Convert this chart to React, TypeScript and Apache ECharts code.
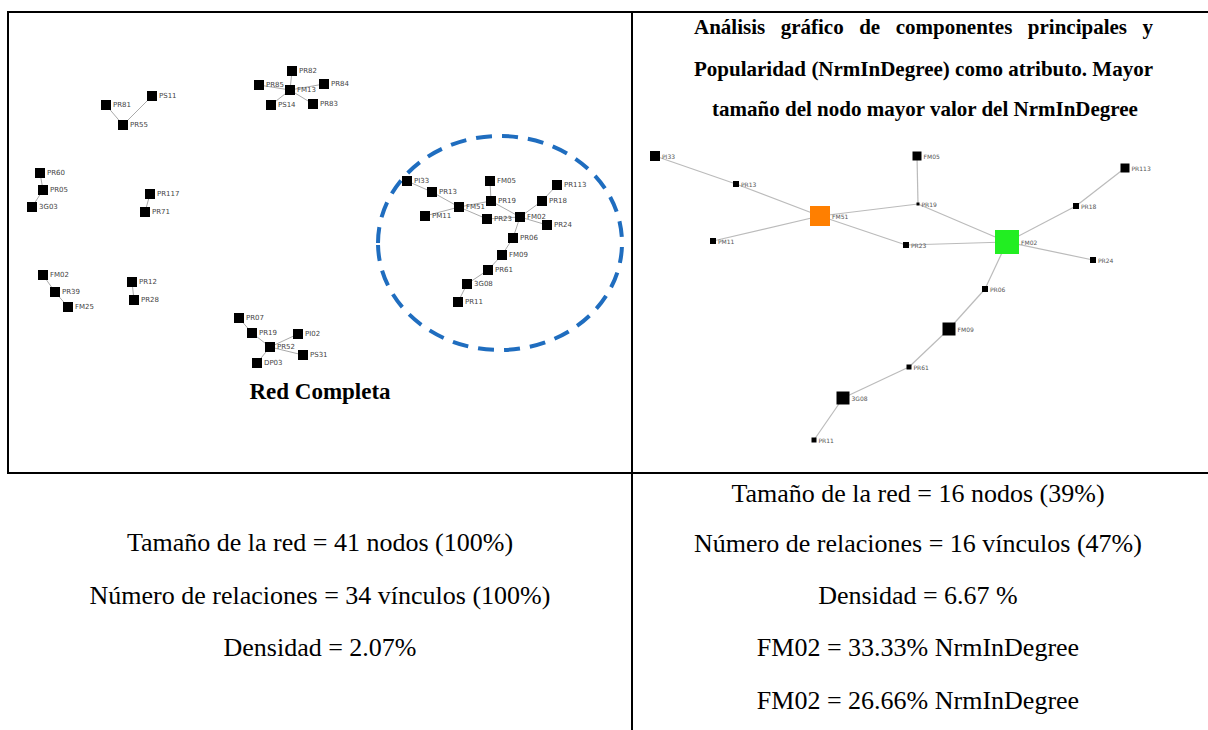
import React, { useEffect, useRef } from "react";
import * as echarts from "echarts";

// ---- Left network (complete network) ----
const leftNodes: [string, number, number][] = [
  ["PR81", 106, 105], ["PS11", 152, 96], ["PR55", 123, 125],
  ["PR82", 292, 71], ["PR85", 259, 85], ["FM13", 290, 90], ["PR84", 324, 84], ["PS14", 271, 105], ["PR83", 313, 104],
  ["PR60", 40, 173], ["PR05", 43, 190], ["3G03", 32, 207],
  ["PR117", 150, 194], ["PR71", 145, 212],
  ["FM02b", 43, 275], ["PR39", 55, 292], ["FM25", 68, 307],
  ["PR12", 132, 282], ["PR28", 134, 300],
  ["PR07", 239, 318], ["PR19b", 252, 333], ["PR52", 270, 347], ["PI02", 298, 334], ["PS31", 303, 355], ["DP03", 257, 363],
  ["PI33", 407, 181], ["PR13", 432, 192], ["FM51", 459, 207], ["PM11", 425, 216], ["FM05", 490, 181],
  ["PR19", 491, 201], ["PR23", 487, 219], ["FM02", 520, 217], ["PR18", 542, 201], ["PR113", 557, 185],
  ["PR24", 547, 225], ["PR06", 513, 238], ["FM09", 502, 255], ["PR61", 488, 270], ["3G08", 467, 284], ["PR11", 458, 302],
];
const leftLinks: [string, string][] = [
  ["PR81", "PR55"], ["PR55", "PS11"],
  ["PR82", "FM13"], ["PR85", "FM13"], ["FM13", "PR84"], ["FM13", "PS14"], ["FM13", "PR83"],
  ["PR60", "PR05"], ["PR05", "3G03"],
  ["PR117", "PR71"],
  ["FM02b", "PR39"], ["PR39", "FM25"],
  ["PR12", "PR28"],
  ["PR07", "PR19b"], ["PR19b", "PR52"], ["PR52", "PI02"], ["PR52", "PS31"], ["PR52", "DP03"],
  ["PI33", "PR13"], ["PR13", "FM51"], ["PM11", "FM51"], ["FM51", "PR19"], ["FM51", "PR23"], ["PR19", "FM05"],
  ["PR19", "FM02"], ["PR23", "FM02"], ["FM02", "PR18"], ["PR18", "PR113"], ["FM02", "PR24"], ["FM02", "PR06"],
  ["PR06", "FM09"], ["FM09", "PR61"], ["PR61", "3G08"], ["3G08", "PR11"],
];

// ---- Right network (principal component, size = NrmInDegree) ----
const rightNodes: [string, number, number, number, string][] = [
  ["PI33", 655, 156, 10, "#000"], ["PR13", 736, 184, 6, "#000"], ["FM51", 820, 216, 20, "#ff7f00"],
  ["PM11", 713, 241, 6, "#000"], ["FM05", 917, 156, 9, "#000"], ["PR19", 918, 204, 3, "#000"],
  ["PR113", 1125, 168, 9, "#000"], ["PR18", 1076, 206, 6, "#000"], ["FM02", 1007, 242, 24, "#22ee22"],
  ["PR23", 906, 245, 6, "#000"], ["PR24", 1093, 260, 6, "#000"], ["PR06", 985, 289, 6, "#000"],
  ["FM09", 949, 329, 13, "#000"], ["PR61", 909, 367, 5, "#000"], ["3G08", 843, 398, 13, "#000"],
  ["PR11", 814, 440, 5, "#000"],
];
const rightLinks: [string, string][] = [
  ["PI33", "PR13"], ["PR13", "FM51"], ["PM11", "FM51"], ["FM51", "PR19"], ["FM51", "PR23"], ["PR19", "FM05"],
  ["PR19", "FM02"], ["PR23", "FM02"], ["FM02", "PR18"], ["PR18", "PR113"], ["FM02", "PR24"], ["FM02", "PR06"],
  ["PR06", "FM09"], ["FM09", "PR61"], ["PR61", "3G08"], ["3G08", "PR11"],
];

const headerLines = [
  "Análisis gráfico de componentes principales y",
  "Popularidad (NrmInDegree) como atributo. Mayor",
  "tamaño del nodo mayor valor del NrmInDegree",
];
const leftStats = [
  "Tamaño de la red = 41 nodos (100%)",
  "Número de relaciones = 34 vínculos (100%)",
  "Densidad = 2.07%",
];
const rightStats = [
  "Tamaño de la red = 16 nodos (39%)",
  "Número de relaciones = 16 vínculos (47%)",
  "Densidad = 6.67 %",
  "FM02 = 33.33% NrmInDegree",
  "FM02 = 26.66% NrmInDegree",
];

export default function App() {
  const ref = useRef<HTMLDivElement>(null);
  useEffect(() => {
    if (!ref.current) return;
    const chart = echarts.init(ref.current, undefined, { renderer: "svg" });
    const serif = "'Liberation Serif', 'Times New Roman', serif";
    const sans = "'DejaVu Sans', sans-serif";
    const ctx = document.createElement("canvas").getContext("2d")!;

    const lineEl = (x1: number, y1: number, x2: number, y2: number) => ({
      type: "line",
      shape: { x1, y1, x2, y2 },
      style: { stroke: "#000", lineWidth: 2 },
      silent: true,
    });
    const txt = (t: string, x: number, y: number, bold: boolean, size: number, align = "center") => ({
      type: "text",
      x,
      y,
      style: {
        text: t,
        fill: "#000",
        font: `${bold ? "bold " : ""}${size}px ${serif}`,
        textAlign: align,
        textVerticalAlign: "middle",
      },
      silent: true,
    });

    const graphics: any[] = [
      lineEl(7, 12, 1208, 12),
      lineEl(8, 11, 8, 474),
      lineEl(632, 11, 632, 730),
      lineEl(7, 473, 1208, 473),
      {
        type: "ellipse",
        shape: { cx: 500, cy: 243, rx: 122, ry: 107 },
        style: { fill: "none", stroke: "#1f6dbf", lineWidth: 4, lineDash: [16, 10] },
        silent: true,
      },
      txt("Red Completa", 320, 391, true, 23),
    ];

    // header: first two lines justified, last centered
    const hSize = 21;
    const hFont = `bold ${hSize}px ${serif}`;
    ctx.font = hFont;
    const hy = [27, 69, 109];
    const jl = 694, jr = 1153;
    headerLines.forEach((line, i) => {
      if (i < 2) {
        const words = line.split(" ");
        const widths = words.map((w) => ctx.measureText(w).width);
        const total = widths.reduce((a, b) => a + b, 0);
        const gap = (jr - jl - total) / (words.length - 1);
        let x = jl;
        words.forEach((w, k) => {
          graphics.push(txt(w, x, hy[i], true, hSize, "left"));
          x += widths[k] + gap;
        });
      } else {
        graphics.push(txt(line, 925, hy[i], true, hSize));
      }
    });
    leftStats.forEach((t, i) => graphics.push(txt(t, 320, [542, 595, 647][i], false, 26)));
    rightStats.forEach((t, i) => graphics.push(txt(t, 918, [493, 543, 595, 647, 700][i], false, 26)));

    const labelName = (n: string) => n.replace(/b$/, "");

    chart.setOption({
      animation: false,
      grid: { left: 0, top: 0, right: 0, bottom: 0 },
      xAxis: { type: "value", min: 0, max: 1208, show: false },
      yAxis: { type: "value", min: 0, max: 730, inverse: true, show: false },
      graphic: graphics,
      series: [
        {
          type: "graph",
          coordinateSystem: "cartesian2d",
          layout: "none",
          symbol: "rect",
          symbolSize: 10,
          z: 3,
          data: leftNodes.map(([n, x, y]) => ({
            name: n,
            value: [x, y],
            label: { formatter: labelName(n), color: "#444" },
          })),
          links: leftLinks.map(([s, t]) => ({ source: s, target: t })),
          itemStyle: { color: "#000" },
          lineStyle: { color: "#aaa", width: 1, opacity: 1 },
          label: { show: true, position: "right", distance: 2, fontSize: 7, color: "#444", fontFamily: sans },
        },
        {
          type: "graph",
          coordinateSystem: "cartesian2d",
          layout: "none",
          symbol: "rect",
          z: 3,
          data: rightNodes.map(([n, x, y, s, c]) => ({
            id: "r" + n,
            name: n,
            value: [x, y],
            symbolSize: s,
            itemStyle: { color: c },
            label: { color: "#555" },
          })),
          links: rightLinks.map(([s, t]) => ({ source: "r" + s, target: "r" + t })),
          lineStyle: { color: "#bbb", width: 1.2, opacity: 1 },
          label: { show: true, position: "right", distance: 2, fontSize: 6, color: "#555", fontFamily: sans },
        },
      ],
    });
    return () => chart.dispose();
  }, []);
  return (
    <div
      ref={ref}
      style={{ position: "fixed", left: 0, top: 0, width: 1208, height: 730, background: "#fff" }}
    />
  );
}
